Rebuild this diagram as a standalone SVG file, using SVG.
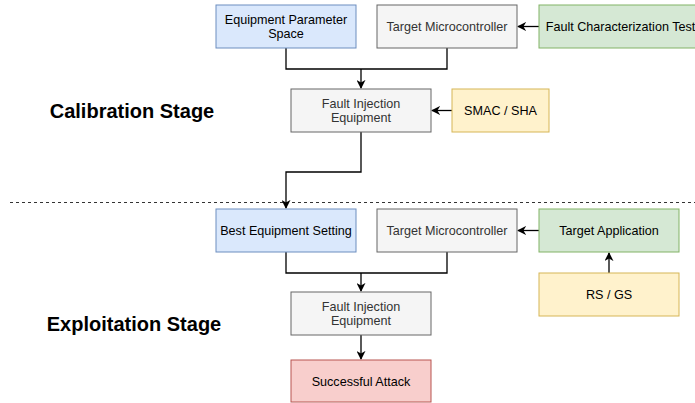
<svg xmlns="http://www.w3.org/2000/svg" width="695" height="403" viewBox="0 0 695 403">
  <style>
    .box text, text.lbl { font-family: "Liberation Sans", Arial, sans-serif; font-size: 12.6px; text-anchor: middle; dominant-baseline: central; }
    .blue rect { fill: #dae8fc; stroke: #6c8ebf; }
    .gray rect { fill: #f5f5f5; stroke: #666666; }
    .gray text { fill: #333333; }
    .green rect { fill: #d5e8d4; stroke: #82b366; }
    .yellow rect { fill: #fff2cc; stroke: #d6b656; }
    .red rect { fill: #f8cecc; stroke: #b85450; }
    .stage { font-family: "Liberation Sans", Arial, sans-serif; font-size: 20px; font-weight: bold; text-anchor: middle; fill: #000; }
    .edge { fill: none; stroke: #000; stroke-width: 1.3; }
  </style>
  <defs>
    <marker id="arrow" viewBox="0 0 10 10" refX="9" refY="5" markerWidth="9" markerHeight="9" markerUnits="userSpaceOnUse" orient="auto">
      <path d="M0,0 L10,5 L0,10 L3,5 Z" fill="#000"/>
    </marker>
  </defs>
  <rect width="695" height="403" fill="#ffffff"/>

  <!-- stage labels -->
  <text class="stage" x="132" y="118">Calibration Stage</text>
  <text class="stage" x="134" y="331">Exploitation Stage</text>

  <!-- divider between stages -->
  <line x1="10" y1="202.5" x2="695" y2="202.5" stroke="#333" stroke-width="1.2" stroke-dasharray="3,3"/>

  <!-- connectors -->
  <g id="connectors">
    <path class="edge" d="M286,48 V69 H447 V48"/>
    <path class="edge" d="M361,69 V88" marker-end="url(#arrow)"/>
    <path class="edge" d="M539,26.5 H518" marker-end="url(#arrow)"/>
    <path class="edge" d="M452,110.5 H432" marker-end="url(#arrow)"/>
    <path class="edge" d="M361,132 V172 H286 V208" marker-end="url(#arrow)"/>
    <path class="edge" d="M286,252 V273 H447 V252"/>
    <path class="edge" d="M361,273 V291" marker-end="url(#arrow)"/>
    <path class="edge" d="M539,230.5 H518" marker-end="url(#arrow)"/>
    <path class="edge" d="M609,273 V253" marker-end="url(#arrow)"/>
    <path class="edge" d="M361,335 V359" marker-end="url(#arrow)"/>
  </g>

  <!-- calibration stage -->
  <g id="equip-param-space" class="box blue">
    <rect x="216" y="5" width="140" height="43"/>
    <text x="286" y="19.5">Equipment Parameter</text>
    <text x="286" y="34">Space</text>
  </g>
  <g id="target-mcu-1" class="box gray">
    <rect x="377" y="5" width="140" height="43"/>
    <text x="447" y="26.5">Target Microcontroller</text>
  </g>
  <g id="fault-char-test" class="box green">
    <rect x="539" y="5" width="164" height="43"/>
    <text x="620.5" y="26.5">Fault Characterization Test</text>
  </g>
  <g id="fie-1" class="box gray">
    <rect x="291" y="89" width="140" height="43"/>
    <text x="361" y="103.5">Fault Injection</text>
    <text x="361" y="118">Equipment</text>
  </g>
  <g id="smac-sha" class="box yellow">
    <rect x="452" y="89" width="97" height="43"/>
    <text x="500.5" y="110.5">SMAC / SHA</text>
  </g>

  <!-- exploitation stage -->
  <g id="best-setting" class="box blue">
    <rect x="216" y="209" width="140" height="43"/>
    <text x="286" y="230.5">Best Equipment Setting</text>
  </g>
  <g id="target-mcu-2" class="box gray">
    <rect x="377" y="209" width="140" height="43"/>
    <text x="447" y="230.5">Target Microcontroller</text>
  </g>
  <g id="target-app" class="box green">
    <rect x="539" y="209" width="140" height="43"/>
    <text x="609" y="230.5">Target Application</text>
  </g>
  <g id="rs-gs" class="box yellow">
    <rect x="539" y="273" width="140" height="43"/>
    <text x="609" y="294.5">RS / GS</text>
  </g>
  <g id="fie-2" class="box gray">
    <rect x="291" y="292" width="140" height="43"/>
    <text x="361" y="306.5">Fault Injection</text>
    <text x="361" y="321">Equipment</text>
  </g>
  <g id="success" class="box red">
    <rect x="291" y="360" width="140" height="42"/>
    <text x="361" y="381.5">Successful Attack</text>
  </g>
</svg>
